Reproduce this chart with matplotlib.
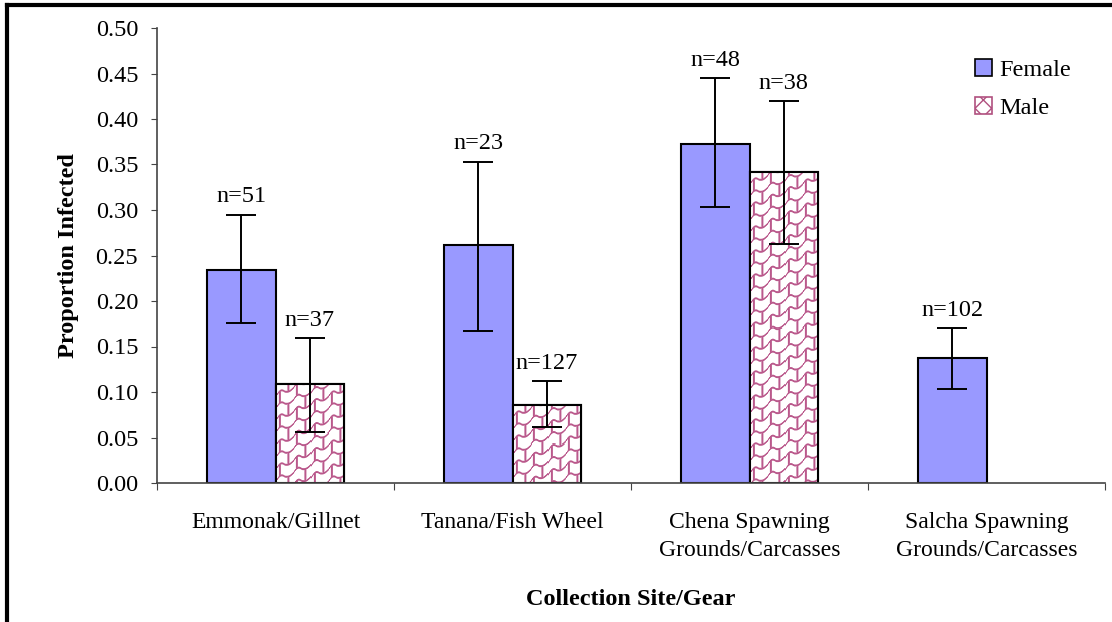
import numpy as np
import matplotlib.pyplot as plt
from matplotlib.lines import Line2D
from matplotlib.patches import Patch

plt.rcParams['font.family'] = ['Liberation Serif', 'DejaVu Serif']

sites = ['Emmonak/Gillnet', 'Tanana/Fish Wheel',
         'Chena Spawning\nGrounds/Carcasses', 'Salcha Spawning\nGrounds/Carcasses']
female = [0.234, 0.262, 0.373, 0.137]
female_lo = [0.176, 0.167, 0.303, 0.103]
female_hi = [0.295, 0.353, 0.445, 0.170]
female_n = ['n=51', 'n=23', 'n=48', 'n=102']
male = [0.109, 0.086, 0.342, None]
male_lo = [0.056, 0.061, 0.263, None]
male_hi = [0.159, 0.112, 0.420, None]
male_n = ['n=37', 'n=127', 'n=38', None]

W, H, DPI = 1112, 622, 100
fig = plt.figure(figsize=(W / DPI, H / DPI), dpi=DPI)
ax = fig.add_axes([157 / W, 1 - 483 / H, 948 / W, 455 / H])

bw = 0.287
x = np.arange(len(sites))
ax.set_xlim(-0.5, len(sites) - 0.5)
ax.set_ylim(0, 0.5)
fig.canvas.draw()

pink = np.array([0.70, 0.28, 0.50])


def scale_texture(wpx, hpx, period=12.0, step=17.0):
    # shingle pattern: wavy rows joined by short links, pink on white
    yy, xx = np.mgrid[0:hpx, 0:wpx].astype(float)
    u = (xx % step) / step
    bump = 3.0 * np.clip(np.sin(2 * np.pi * u), 0, None) - 1.5 * np.clip(-np.sin(2 * np.pi * u), 0, None)
    raw = yy + 0.45 * xx + bump
    phase = raw % period
    d = np.minimum(phase, period - phase)
    row = np.floor(raw / period)
    link = (xx + row * step / 2) % step
    dl = np.minimum(np.abs(link - 0.7 * step), step - np.abs(link - 0.7 * step))
    d = np.minimum(d, dl)
    alpha = np.clip(1.5 - d, 0, 1) * 0.9
    img = np.ones((hpx, wpx, 3))
    img = img * (1 - alpha[..., None]) + pink * alpha[..., None]
    return img


fs = 17.5
for i in range(len(sites)):
    xf = x[i] - bw / 2
    ax.bar(xf, female[i], width=bw, color='#9999ff', edgecolor='black', linewidth=1.5, zorder=2)
    ax.errorbar(xf, female[i], yerr=[[female[i] - female_lo[i]], [female_hi[i] - female[i]]],
                fmt='none', ecolor='black', elinewidth=1.4, capsize=11, capthick=1.4, zorder=3)
    ax.text(xf, female_hi[i] + 0.008, female_n[i], ha='center', va='bottom', fontsize=fs)
    if male[i] is None:
        continue
    xm = x[i] + bw / 2
    mb = ax.bar(xm, male[i], width=bw, color='white', edgecolor='black', linewidth=1.5, zorder=2)[0]
    (x0, y0), (x1, y1) = ax.transData.transform([(xm - bw / 2, 0), (xm + bw / 2, male[i])])
    tex = scale_texture(int(round(x1 - x0)), int(round(y1 - y0)))
    im = ax.imshow(tex, extent=(xm - bw / 2, xm + bw / 2, 0, male[i]), aspect='auto',
                   interpolation='nearest', zorder=2.1)
    im.set_clip_path(mb)
    ax.bar(xm, male[i], width=bw, fill=False, edgecolor='black', linewidth=1.5, zorder=2.2)
    ax.errorbar(xm, male[i], yerr=[[male[i] - male_lo[i]], [male_hi[i] - male[i]]],
                fmt='none', ecolor='black', elinewidth=1.4, capsize=11, capthick=1.4, zorder=3)
    ax.text(xm, male_hi[i] + 0.008, male_n[i], ha='center', va='bottom', fontsize=fs)

ax.set_xlim(-0.5, len(sites) - 0.5)
ax.set_ylim(0, 0.5)
ax.set_yticks(np.arange(0, 0.501, 0.05))
ax.set_yticklabels([f'{v:.2f}' for v in np.arange(0, 0.501, 0.05)], fontsize=fs)
ax.set_xticks(np.arange(-0.5, len(sites), 1.0))
ax.set_xticklabels([])
ax.set_xticks(x, minor=True)
ax.set_xticklabels(sites, minor=True, fontsize=17, linespacing=1.45)
ax.tick_params(axis='x', which='minor', length=0, pad=21)
ax.tick_params(axis='x', which='major', length=5, direction='out', color='#444444')
ax.tick_params(axis='y', length=4.5, direction='out', color='#444444', pad=9)
for s in ['top', 'right']:
    ax.spines[s].set_visible(False)
for s in ['left', 'bottom']:
    ax.spines[s].set_color('#444444')
    ax.spines[s].set_linewidth(1.2)

ax.set_ylabel('Proportion Infected', fontsize=fs, fontweight='bold', labelpad=12)
ax.set_xlabel('Collection Site/Gear', fontsize=fs, fontweight='bold', labelpad=20)

handles = [Patch(facecolor='#9999ff', edgecolor='black', linewidth=1.2),
           Patch(facecolor='white', edgecolor='#b0507f', hatch='xx', linewidth=1.2)]
leg = ax.legend(handles, ['Female', 'Male'], loc='upper left', bbox_to_anchor=(0.84, 0.98),
                frameon=False, fontsize=fs, handlelength=0.7, handleheight=0.7,
                handletextpad=0.3, labelspacing=0.65)

# outer border of the figure
fig.add_artist(Line2D([7 / W, 7 / W], [0, 1 - 5 / H], color='black', lw=3, transform=fig.transFigure))
fig.add_artist(Line2D([7 / W, 1], [1 - 5 / H, 1 - 5 / H], color='black', lw=3, transform=fig.transFigure))

fig.savefig('out.png', dpi=DPI)
